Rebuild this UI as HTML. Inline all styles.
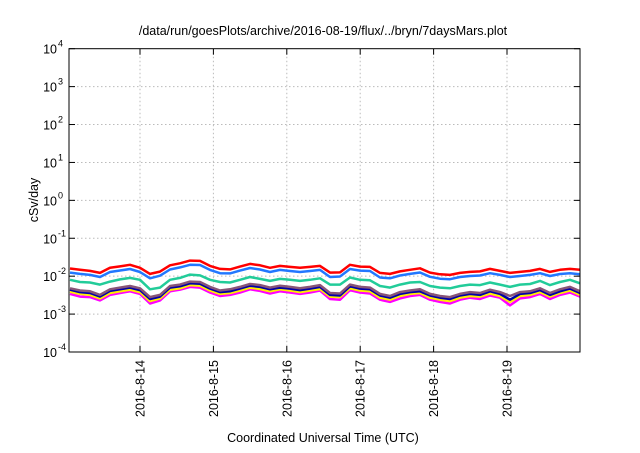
<!DOCTYPE html>
<html><head><meta charset="utf-8"><style>
body{margin:0;background:#fff;font-family:"Liberation Sans",sans-serif;}
svg text{font-family:"Liberation Sans",sans-serif;fill:#000;}
</style></head><body>
<svg id="chart" width="640" height="448" xmlns="http://www.w3.org/2000/svg">
<text x="323" y="35" font-size="12.5" text-anchor="middle">/data/run/goesPlots/archive/2016-08-19/flux/../bryn/7daysMars.plot</text>
<text x="323" y="442" font-size="12.5" text-anchor="middle">Coordinated Universal Time (UTC)</text>
<text x="0" y="0" font-size="12.5" text-anchor="middle" transform="translate(38,200) rotate(-90)">cSv/day</text>
<g id="grid"></g><g id="series"></g><g id="axes"></g>
</svg>
<script>
const decades=[-4,-3,-2,-1,0,1,2,3,4];
const dayLabels=["2016-8-14","2016-8-15","2016-8-16","2016-8-17","2016-8-18","2016-8-19"];
const red=[0.0159,0.0147,0.0138,0.0122,0.0166,0.0181,0.0199,0.0166,0.0115,0.0132,0.0193,0.0218,0.0258,0.0253,0.0187,0.0156,0.0151,0.0179,0.0211,0.0193,0.0166,0.0187,0.0176,0.0166,0.0176,0.0187,0.0124,0.0126,0.0199,0.0179,0.0176,0.0122,0.0115,0.0134,0.0147,0.0161,0.0124,0.0112,0.0108,0.0122,0.0130,0.0134,0.0156,0.0138,0.0122,0.0130,0.0138,0.0156,0.0130,0.0147,0.0156,0.0147];
const blue=[0.0124,0.0115,0.0108,0.0095,0.0129,0.0141,0.0155,0.0129,0.0088,0.0103,0.0150,0.0170,0.0200,0.0197,0.0146,0.0120,0.0118,0.0140,0.0164,0.0150,0.0129,0.0146,0.0137,0.0129,0.0137,0.0146,0.0095,0.0098,0.0155,0.0140,0.0137,0.0092,0.0088,0.0104,0.0115,0.0125,0.0096,0.0086,0.0083,0.0095,0.0101,0.0104,0.0120,0.0108,0.0095,0.0101,0.0108,0.0120,0.0101,0.0114,0.0120,0.0112];
const green=[0.0080,0.0070,0.0068,0.0060,0.0072,0.0082,0.0090,0.0080,0.0045,0.0050,0.0080,0.0090,0.0110,0.0105,0.0080,0.0070,0.0068,0.0080,0.0095,0.0085,0.0075,0.0085,0.0080,0.0075,0.0080,0.0088,0.0060,0.0060,0.0092,0.0080,0.0078,0.0055,0.0050,0.0060,0.0068,0.0070,0.0055,0.0050,0.0048,0.0055,0.0060,0.0058,0.0068,0.0060,0.0052,0.0060,0.0062,0.0075,0.0058,0.0070,0.0080,0.0065];
const purple=[0.0048,0.0042,0.0040,0.0032,0.0045,0.0050,0.0055,0.0048,0.0028,0.0032,0.0055,0.0060,0.0072,0.0070,0.0052,0.0042,0.0045,0.0052,0.0062,0.0058,0.0050,0.0056,0.0052,0.0048,0.0052,0.0058,0.0036,0.0035,0.0060,0.0052,0.0050,0.0034,0.0030,0.0038,0.0042,0.0045,0.0034,0.0030,0.0028,0.0034,0.0038,0.0036,0.0044,0.0038,0.0030,0.0038,0.0040,0.0048,0.0036,0.0045,0.0052,0.0040];
const navy=[0.0044,0.0038,0.0036,0.0029,0.0041,0.0045,0.0050,0.0043,0.0025,0.0029,0.0050,0.0054,0.0065,0.0063,0.0047,0.0038,0.0040,0.0047,0.0056,0.0052,0.0045,0.0050,0.0047,0.0043,0.0047,0.0052,0.0032,0.0031,0.0054,0.0047,0.0045,0.0031,0.0027,0.0034,0.0038,0.0040,0.0031,0.0027,0.0025,0.0031,0.0034,0.0032,0.0040,0.0034,0.0024,0.0034,0.0036,0.0043,0.0032,0.0040,0.0047,0.0036];
const yellow=[0.0039,0.0034,0.0032,0.0026,0.0036,0.0040,0.0044,0.0038,0.0022,0.0026,0.0044,0.0048,0.0058,0.0056,0.0042,0.0034,0.0036,0.0042,0.0050,0.0046,0.0040,0.0045,0.0042,0.0038,0.0042,0.0046,0.0029,0.0028,0.0048,0.0042,0.0040,0.0027,0.0024,0.0030,0.0034,0.0036,0.0027,0.0024,0.0022,0.0027,0.0030,0.0029,0.0035,0.0030,0.0021,0.0030,0.0032,0.0038,0.0029,0.0036,0.0042,0.0032];
const magenta=[0.0034,0.0029,0.0028,0.0023,0.0032,0.0036,0.0040,0.0034,0.0019,0.0023,0.0040,0.0044,0.0052,0.0050,0.0037,0.0030,0.0032,0.0037,0.0045,0.0041,0.0035,0.0040,0.0037,0.0034,0.0037,0.0042,0.0025,0.0024,0.0043,0.0037,0.0035,0.0024,0.0021,0.0026,0.0030,0.0032,0.0024,0.0021,0.0019,0.0024,0.0027,0.0025,0.0031,0.0027,0.0017,0.0026,0.0028,0.0034,0.0025,0.0032,0.0037,0.0029];
const seriesList=[["magenta",magenta,"#ff00ff"],["yellow",yellow,"#ffee00"],["navy",navy,"#0000aa"],["purple",purple,"#885577"],["green",green,"#22cc99"],["blue",blue,"#2277ff"],["red",red,"#ff0000"]];
const L=69,R=580,T=48.7,B=352;
const NS="http://www.w3.org/2000/svg";
function yScale(v){return B-(Math.log10(v)+4)/8*(B-T);}
function xIdx(i,n){return 70+i*(R-70)/(n-1);}
function xDay(d){return 140+d*73.4;}
function mk(tag,attrs,parent){const e=document.createElementNS(NS,tag);for(const k in attrs)e.setAttribute(k,attrs[k]);parent.appendChild(e);return e;}
const grid=document.getElementById('grid'),axes=document.getElementById('axes'),ser=document.getElementById('series');
decades.forEach(d=>{const y=yScale(Math.pow(10,d));
 if(d>-4&&d<4){const g=mk('line',{x1:L,x2:R,y1:y,y2:y,stroke:'#bbb','stroke-dasharray':'1.5,2.5'},grid);
 
 }
 const t=mk('line',{x1:L,x2:L+6,y1:y,y2:y,stroke:'#000'},axes);
 
 
 mk('line',{x1:R-6,x2:R,y1:y,y2:y,stroke:'#000'},axes);
 const tx=mk('text',{x:57,y:y+5,'font-size':'12.5','text-anchor':'end'},axes);
 
 
 tx.textContent='10';
 const s=mk('text',{x:58,y:y-2,'font-size':'9'},axes);s.textContent=String(d);
});
dayLabels.forEach((lab,i)=>{const x=xDay(i);
 const g=mk('line',{x1:x,x2:x,y1:T,y2:B,stroke:'#bbb','stroke-dasharray':'1.5,2.5'},grid);
 
 
 mk('line',{x1:x,x2:x,y1:B,y2:B-6,stroke:'#000'},axes);
 mk('line',{x1:x,x2:x,y1:T,y2:T+6,stroke:'#000'},axes);
 const tx=mk('text',{x:0,y:0,'font-size':'12.5','text-anchor':'end',transform:`translate(${x+4.5},360) rotate(-90)`},axes);
 
 
 tx.textContent=lab;
});
seriesList.forEach(([name,vals,col])=>{
 const pts=vals.map((v,i)=>xIdx(i,vals.length).toFixed(1)+','+yScale(v).toFixed(1)).join(' ');
 const p=mk('polyline',{points:pts,fill:'none',stroke:col,'stroke-width':'2.5','stroke-linejoin':'round'},ser);
 
 
});
const fr=mk('rect',{x:L,y:T,width:R-L,height:B-T,fill:'none',stroke:'#000','stroke-width':'1'},axes);


</script>
</body></html>
